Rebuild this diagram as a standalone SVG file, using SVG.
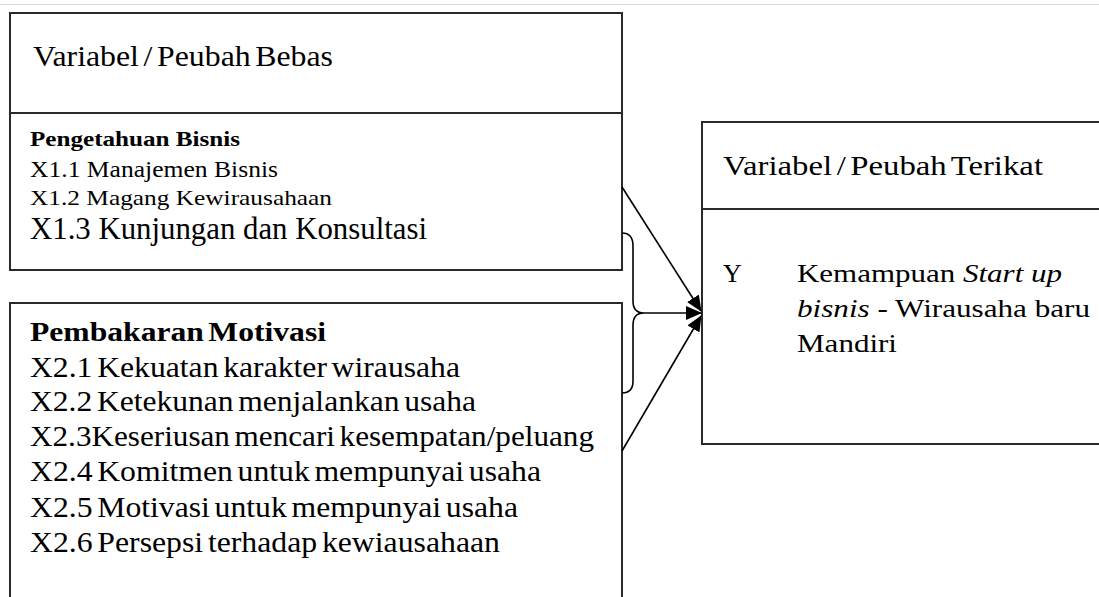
<svg xmlns="http://www.w3.org/2000/svg" width="1099" height="597" viewBox="0 0 1099 597">
  <style>
    .box { fill: #ffffff; stroke: #2a2a2a; stroke-width: 2; }
    .div { stroke: #2a2a2a; stroke-width: 2; }
    .t { font-family: "Liberation Serif", "Times New Roman", serif; fill: #000; }
    .b { font-weight: bold; }
    .ws { word-spacing: -3px; }
    .conn { fill: none; stroke: #000; stroke-width: 1.6; }
  </style>
  <defs>
    <marker id="arrow" markerWidth="16" markerHeight="14" refX="15" refY="7" orient="auto" markerUnits="userSpaceOnUse">
      <path d="M0,0 L16,7 L0,14 Z" fill="#000"/>
    </marker>
  </defs>
  <rect x="0" y="0" width="1099" height="597" fill="#ffffff"/>
  <line x1="0" y1="4.5" x2="1099" y2="4.5" stroke="#d8d8d8" stroke-width="1"/>

  <g id="node-bebas">
    <rect class="box" x="10" y="13" width="612" height="257"/>
    <line class="div" x1="10" y1="113" x2="622" y2="113"/>
    <text class="t ws" x="33" y="66" font-size="29" textLength="300" lengthAdjust="spacingAndGlyphs">Variabel / Peubah Bebas</text>
    <text class="t b" x="30" y="146" font-size="22" textLength="210" lengthAdjust="spacingAndGlyphs">Pengetahuan Bisnis</text>
    <text class="t" x="30" y="177" font-size="22.5" textLength="248" lengthAdjust="spacingAndGlyphs">X1.1 Manajemen Bisnis</text>
    <text class="t" x="30" y="205" font-size="22" textLength="302" lengthAdjust="spacingAndGlyphs">X1.2 Magang Kewirausahaan</text>
    <text class="t" x="30" y="239" font-size="31" textLength="397" lengthAdjust="spacingAndGlyphs">X1.3 Kunjungan dan Konsultasi</text>
  </g>

  <g id="node-motivasi">
    <rect class="box" x="10" y="303" width="612" height="310"/>
    <text class="t b ws" x="30" y="341" font-size="28" textLength="296" lengthAdjust="spacingAndGlyphs">Pembakaran Motivasi</text>
    <text class="t ws" x="30" y="377" font-size="29.5" textLength="430" lengthAdjust="spacingAndGlyphs">X2.1 Kekuatan karakter wirausaha</text>
    <text class="t ws" x="30" y="411" font-size="29.5" textLength="446" lengthAdjust="spacingAndGlyphs">X2.2 Ketekunan menjalankan usaha</text>
    <text class="t ws" x="30" y="446" font-size="29.5" textLength="564" lengthAdjust="spacingAndGlyphs">X2.3Keseriusan mencari kesempatan/peluang</text>
    <text class="t ws" x="30" y="481" font-size="29.5" textLength="511" lengthAdjust="spacingAndGlyphs">X2.4 Komitmen untuk mempunyai usaha</text>
    <text class="t ws" x="30" y="517" font-size="29.5" textLength="488" lengthAdjust="spacingAndGlyphs">X2.5 Motivasi untuk mempunyai usaha</text>
    <text class="t ws" x="30" y="552" font-size="29.5" textLength="470" lengthAdjust="spacingAndGlyphs">X2.6 Persepsi terhadap kewiausahaan</text>
  </g>

  <g id="node-terikat">
    <rect class="box" x="702" y="122" width="420" height="322"/>
    <line class="div" x1="702" y1="209" x2="1110" y2="209"/>
    <text class="t ws" x="723" y="175" font-size="27" textLength="320" lengthAdjust="spacingAndGlyphs">Variabel / Peubah Terikat</text>
    <text class="t" x="723" y="282" font-size="26">Y</text>
    <text class="t" x="797" y="282" font-size="26" textLength="265" lengthAdjust="spacingAndGlyphs">Kemampuan <tspan font-style="italic">Start up</tspan></text>
    <text class="t" x="797" y="317" font-size="26" textLength="293" lengthAdjust="spacingAndGlyphs"><tspan font-style="italic">bisnis</tspan> - Wirausaha baru</text>
    <text class="t" x="797" y="352" font-size="26" textLength="100" lengthAdjust="spacingAndGlyphs">Mandiri</text>
  </g>

  <g id="connectors">
    <line class="conn" x1="622" y1="187" x2="701" y2="311" marker-end="url(#arrow)"/>
    <line class="conn" x1="622" y1="451" x2="701" y2="316" marker-end="url(#arrow)"/>
    <path class="conn" d="M622,233 Q633,233 633,246 L633,301 Q633,313 644,313 Q633,313 633,325 L633,381 Q633,393 622,393"/>
    <line class="conn" x1="644" y1="313" x2="701" y2="313" marker-end="url(#arrow)"/>
  </g>
</svg>
